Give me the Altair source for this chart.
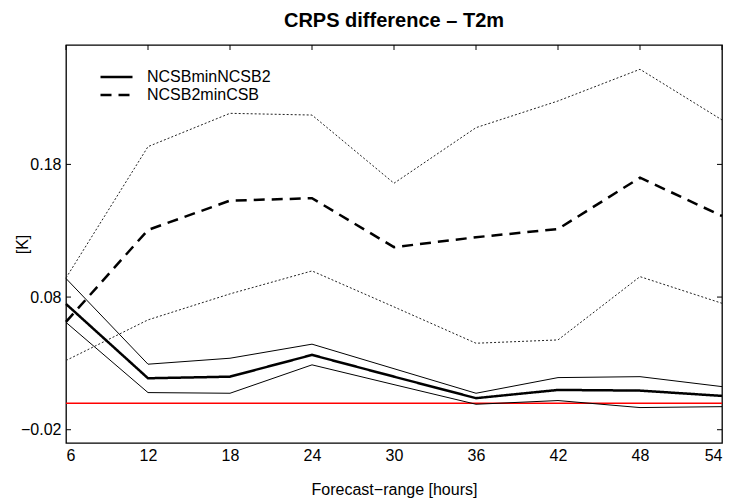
import altair as alt
import pandas as pd

hours = [6, 12, 18, 24, 30, 36, 42, 48, 54]

# NCSBminNCSB2 (solid) mean and bounds
ncsb_mean = [0.0748, 0.0188, 0.0200, 0.0364, 0.0200, 0.0038, 0.0100, 0.0095, 0.0055]
ncsb_upper = [0.0940, 0.0294, 0.0339, 0.0445, 0.0260, 0.0075, 0.0193, 0.0200, 0.0125]
ncsb_lower = [0.0609, 0.0080, 0.0075, 0.0289, 0.0140, -0.0008, 0.0020, -0.0033, -0.0026]

# NCSB2minCSB (dashed) mean and bounds
ncsb2_mean = [0.0613, 0.1306, 0.1527, 0.1545, 0.1176, 0.1251, 0.1313, 0.1700, 0.1411]
ncsb2_upper = [0.0944, 0.1934, 0.2185, 0.2172, 0.1658, 0.2077, 0.2278, 0.2517, 0.2135]
ncsb2_lower = [0.0322, 0.0628, 0.0824, 0.0997, 0.0726, 0.0452, 0.0477, 0.0954, 0.0753]

series_names = ["NCSBminNCSB2", "NCSB2minCSB"]
x_ticks = [6, 12, 18, 24, 30, 36, 42, 48, 54]
y_ticks = [-0.02, 0.08, 0.18]
x_domain = [6, 54]
y_domain = [-0.03, 0.27]

FONT = "Liberation Sans"

means = pd.DataFrame(
    [{"h": h, "v": v, "series": series_names[0]} for h, v in zip(hours, ncsb_mean)]
    + [{"h": h, "v": v, "series": series_names[1]} for h, v in zip(hours, ncsb2_mean)]
)
solid_bands = pd.DataFrame(
    [{"h": h, "v": v, "band": "up"} for h, v in zip(hours, ncsb_upper)]
    + [{"h": h, "v": v, "band": "lo"} for h, v in zip(hours, ncsb_lower)]
)
dotted_bands = pd.DataFrame(
    [{"h": h, "v": v, "band": "up"} for h, v in zip(hours, ncsb2_upper)]
    + [{"h": h, "v": v, "band": "lo"} for h, v in zip(hours, ncsb2_lower)]
)
xt = pd.DataFrame({"t": x_ticks})
yt = pd.DataFrame({"t": y_ticks})
zero = pd.DataFrame({"z": [0.0]})

xs = alt.Scale(domain=x_domain, nice=False, zero=False)
ys = alt.Scale(domain=y_domain, nice=False, zero=False)

x_enc = alt.X(
    "h:Q", scale=xs,
    axis=alt.Axis(values=x_ticks, title="Forecast\u2212range [hours]", domain=False,
                  ticks=False, grid=False, labelFontSize=16, labelPadding=4,
                  titleFontSize=16, titleFontWeight="normal", titlePadding=18,
                  labelFont=FONT, titleFont=FONT, labelColor="black", titleColor="black"),
)
y_enc = alt.Y(
    "v:Q", scale=ys,
    axis=alt.Axis(values=y_ticks, format=".2f", title="[K]", domain=False, ticks=False,
                  grid=False, labelFontSize=16, labelPadding=5, titleFontSize=16,
                  titleFontWeight="normal", titleX=-36, titleY=199, labelFont=FONT,
                  titleFont=FONT, labelColor="black", titleColor="black"),
)

red = alt.Chart(zero).mark_rule(color="#ff0000", strokeWidth=1.5).encode(
    y=alt.Y("z:Q", scale=ys)
)

solid_lines = alt.Chart(solid_bands).mark_line(color="black", strokeWidth=1).encode(
    x=x_enc, y=y_enc, detail="band:N"
)
dotted_lines = alt.Chart(dotted_bands).mark_line(
    color="#222222", strokeWidth=1, strokeDash=[2, 2]
).encode(x=alt.X("h:Q", scale=xs), y=alt.Y("v:Q", scale=ys), detail="band:N")

mean_lines = alt.Chart(means).mark_line(color="black", strokeWidth=2.5).encode(
    x=alt.X("h:Q", scale=xs),
    y=alt.Y("v:Q", scale=ys),
    strokeDash=alt.StrokeDash(
        "series:N",
        scale=alt.Scale(domain=series_names, range=[[1, 0], [11, 7]]),
        legend=alt.Legend(
            title=None, orient="none", legendX=33, legendY=24,
            symbolType="stroke", symbolSize=1024, symbolStrokeWidth=2.5,
            symbolStrokeColor="black", labelFontSize=16, labelFont=FONT,
            labelColor="black", labelOffset=13, rowPadding=2, clipHeight=16,
        ),
    ),
)

tick_left = alt.Chart(yt).mark_rule(color="black", strokeWidth=1, x2Offset=5).encode(
    y=alt.Y("t:Q", scale=ys), x=alt.datum(6, scale=xs), x2=alt.datum(6)
)
tick_right = alt.Chart(yt).mark_rule(color="black", strokeWidth=1, x2Offset=-5).encode(
    y=alt.Y("t:Q", scale=ys), x=alt.datum(54, scale=xs), x2=alt.datum(54)
)
tick_top = alt.Chart(xt).mark_rule(color="black", strokeWidth=1, y2Offset=5).encode(
    x=alt.X("t:Q", scale=xs), y=alt.datum(0.27, scale=ys), y2=alt.datum(0.27)
)

chart = alt.layer(
    red, solid_lines, dotted_lines, mean_lines, tick_left, tick_right, tick_top
).properties(
    width=656, height=398,
    background="white",
    title=alt.Title("CRPS difference \u2013 T2m", fontSize=20, font=FONT,
                    fontWeight="bold", color="black", offset=14),
    autosize=alt.AutoSizeParams(type="none"),
    padding={"left": 66, "top": 45, "right": 10, "bottom": 56},
).configure_view(stroke="black", strokeWidth=1.3, strokeOpacity=1)

chart.save("out.html", embed_options={"renderer": "svg", "actions": False})
